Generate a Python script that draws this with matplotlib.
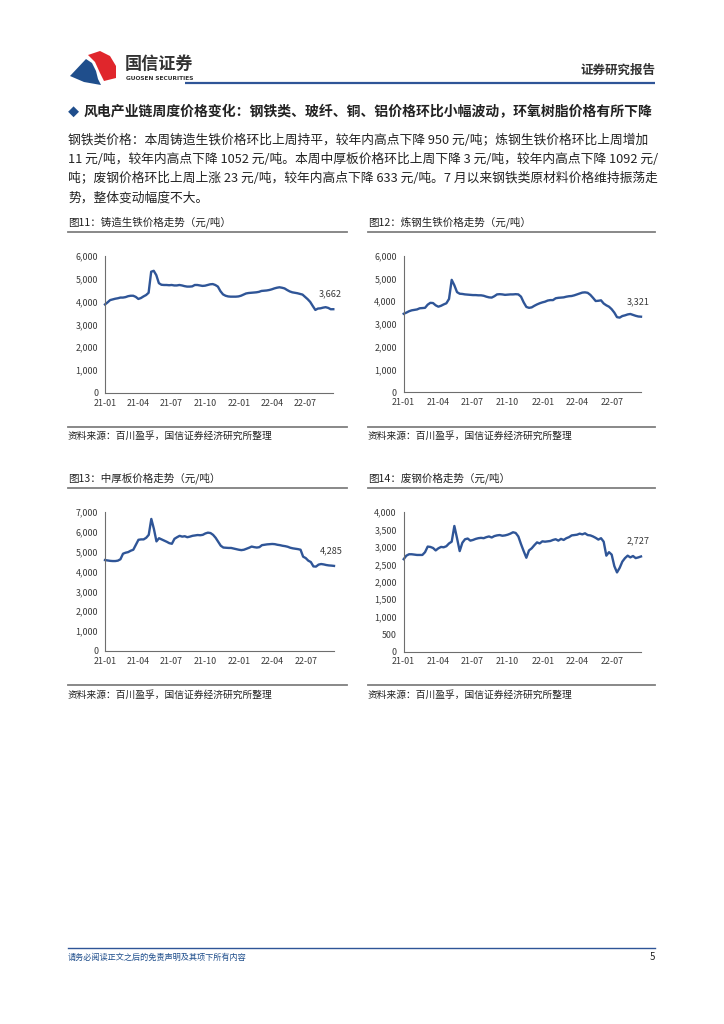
import matplotlib
matplotlib.use('Agg')
import matplotlib.pyplot as plt
from matplotlib.patches import Polygon
from matplotlib.ticker import FuncFormatter, MultipleLocator
import pandas as pd

plt.rcParams['font.family'] = ['Noto Sans CJK SC', 'DejaVu Sans']

# ---------------- data ----------------
dates = pd.date_range('2021-01-01', periods=90, freq='7D')
x_tick_dates = pd.to_datetime(['2021-01-01', '2021-04-01', '2021-07-01', '2021-10-01',
                               '2022-01-01', '2022-04-01', '2022-07-01'])
x_tick_labels = ['21-01', '21-04', '21-07', '21-10', '22-01', '22-04', '22-07']

cast_iron = [3870, 3960, 4060, 4090, 4120, 4140, 4170, 4170, 4190, 4230,
             4250, 4250, 4200, 4110, 4150, 4220, 4280, 4380, 5300, 5340,
             5150, 4800, 4730, 4720, 4720, 4710, 4720, 4700, 4700, 4720,
             4700, 4670, 4650, 4650, 4660, 4720, 4720, 4700, 4680, 4690,
             4720, 4750, 4760, 4720, 4650, 4450, 4310, 4250, 4220, 4210,
             4210, 4210, 4220, 4250, 4300, 4350, 4370, 4380, 4390, 4400,
             4420, 4460, 4470, 4480, 4500, 4530, 4570, 4600, 4620, 4600,
             4570, 4500, 4440, 4400, 4380, 4360, 4330, 4300, 4200, 4100,
             3980, 3800, 3630, 3690, 3700, 3730, 3750, 3720, 3660, 3662]

steel_iron = [3450, 3500, 3560, 3600, 3620, 3640, 3690, 3700, 3710, 3850,
              3930, 3920, 3820, 3760, 3800, 3860, 3910, 4100, 4940, 4700,
              4400, 4330, 4320, 4300, 4290, 4280, 4270, 4270, 4260, 4260,
              4240, 4200, 4170, 4160, 4220, 4300, 4310, 4300, 4280, 4290,
              4300, 4300, 4310, 4300, 4200, 3950, 3750, 3710, 3730, 3800,
              3860, 3910, 3950, 3980, 4030, 4050, 4050, 4130, 4150, 4160,
              4170, 4200, 4220, 4230, 4260, 4300, 4340, 4380, 4390, 4370,
              4280, 4150, 4010, 4020, 4040, 3900, 3820, 3760, 3650, 3500,
              3300, 3280, 3350, 3380, 3420, 3440, 3400, 3360, 3330, 3321]

plate = [4580, 4560, 4540, 4530, 4530, 4550, 4620, 4900, 4950, 4980,
         5050, 5100, 5350, 5600, 5620, 5620, 5700, 5850, 6650, 6150,
         5520, 5680, 5620, 5560, 5500, 5430, 5400, 5650, 5730, 5800,
         5760, 5780, 5730, 5760, 5800, 5820, 5840, 5830, 5850, 5920,
         5960, 5940, 5850, 5700, 5500, 5300, 5210, 5200, 5190, 5190,
         5160, 5130, 5100, 5080, 5100, 5150, 5200, 5260, 5230, 5210,
         5230, 5330, 5350, 5370, 5380, 5390, 5380, 5350, 5330, 5300,
         5280, 5250, 5200, 5170, 5150, 5130, 5100, 4750, 4680, 4550,
         4480, 4260, 4250, 4350, 4380, 4360, 4330, 4310, 4300, 4285]

scrap = [2650, 2750, 2790, 2790, 2780, 2770, 2770, 2770, 2850, 3010,
         3000, 2970, 2900, 2960, 3000, 2990, 3020, 3100, 3150, 3600,
         3250, 2880, 3120, 3220, 3240, 3180, 3200, 3230, 3250, 3260,
         3250, 3280, 3300, 3270, 3310, 3330, 3340, 3320, 3330, 3350,
         3380, 3420, 3400, 3300, 3080, 2880, 2690, 2900, 2960, 3050,
         3130, 3100, 3160, 3150, 3160, 3170, 3200, 3220, 3180, 3230,
         3200, 3250, 3280, 3330, 3340, 3350, 3380, 3360, 3390, 3340,
         3330, 3300, 3260, 3210, 3250, 3150, 2750, 2850, 2780, 2450,
         2270, 2400, 2580, 2680, 2750, 2700, 2740, 2680, 2700, 2727]

chart_titles = ['图11：铸造生铁价格走势（元/吨）', '图12：炼钢生铁价格走势（元/吨）',
                '图13：中厚板价格走势（元/吨）', '图14：废钢价格走势（元/吨）']
source_text = '资料来源：百川盈孚，国信证券经济研究所整理'

heading = '风电产业链周度价格变化：钢铁类、玻纤、铜、铝价格环比小幅波动，环氧树脂价格有所下降'
body_lines = [
    '钢铁类价格：本周铸造生铁价格环比上周持平，较年内高点下降 950 元/吨；炼钢生铁价格环比上周增加',
    '11 元/吨，较年内高点下降 1052 元/吨。本周中厚板价格环比上周下降 3 元/吨，较年内高点下降 1092 元/',
    '吨；废钢价格环比上周上涨 23 元/吨，较年内高点下降 633 元/吨。7 月以来钢铁类原材料价格维持振荡走',
    '势，整体变动幅度不大。',
]

# ---------------- figure ----------------
W, H = 724, 1024
fig = plt.figure(figsize=(7.24, 10.24), dpi=100)
fig.patch.set_facecolor('white')
bg = fig.add_axes([0, 0, 1, 1])
bg.set_xlim(0, W)
bg.set_ylim(H, 0)
bg.axis('off')
bg.patch.set_alpha(0)

BLUE = '#2F5597'
DARKBLUE = '#1F4E8C'

# header / logo
bg.add_patch(Polygon([(70, 76), (86, 59), (92, 63), (96, 71), (98, 79), (101, 85), (84, 82)],
                     closed=True, facecolor='#1F4E8C', edgecolor='none'))
bg.add_patch(Polygon([(88, 55), (100, 51), (110, 56), (116, 66), (116, 78), (104, 81), (100, 73), (95, 62)],
                     closed=True, facecolor='#E0262C', edgecolor='none'))
bg.text(125, 64, '国信证券', fontsize=12.3, fontweight='bold', color='#333333', va='center', ha='left')
bg.text(126, 78.5, 'GUOSEN SECURITIES', fontsize=4.2, fontweight='bold', color='#333333',
        va='center', ha='left', family=['DejaVu Sans'])
bg.text(655, 70, '证券研究报告', fontsize=9, fontweight='bold', color='#333333', va='center', ha='right')
bg.plot([185, 655], [83, 83], color=BLUE, lw=1.6, solid_capstyle='butt')

# heading and body
bg.text(68, 112, '◆', fontsize=8, color=DARKBLUE, va='center', ha='left')
bg.text(84, 112, heading, fontsize=10, fontweight='bold', color='#222222', va='center', ha='left')
for i, line in enumerate(body_lines):
    bg.text(68, 140 + i * 19.3, line, fontsize=9.2, color='#222222', va='center', ha='left')

# footer
bg.plot([68, 655], [948, 948], color=BLUE, lw=1.0)
bg.text(68, 957, '请务必阅读正文之后的免责声明及其项下所有内容', fontsize=5.9, color=DARKBLUE,
        va='center', ha='left', style='italic')
bg.text(655, 957, '5', fontsize=7, color='#222222', va='center', ha='right')

# charts
panels = [
    dict(series=cast_iron, title=chart_titles[0], box=(105, 255.7, 333.3, 393), ymax=6000, step=1000,
         frame=(68, 347), ty=222, tl=232, sl=427, st=436),
    dict(series=steel_iron, title=chart_titles[1], box=(403.7, 255.7, 641, 392.3), ymax=6000, step=1000,
         frame=(368, 655), ty=222, tl=232, sl=427, st=436),
    dict(series=plate, title=chart_titles[2], box=(105, 512, 334, 651), ymax=7000, step=1000,
         frame=(68, 347), ty=478, tl=488, sl=685, st=695),
    dict(series=scrap, title=chart_titles[3], box=(403.7, 512, 641, 651.7), ymax=4000, step=500,
         frame=(368, 655), ty=478, tl=488, sl=685, st=695),
]

fmt = FuncFormatter(lambda v, p: f'{v:,.0f}')
for pnl in panels:
    fl, fr = pnl['frame']
    bg.text(fl, pnl['ty'], pnl['title'], fontsize=7.6, color='#222222', va='center', ha='left')
    bg.plot([fl, fr], [pnl['tl'], pnl['tl']], color='#7F7F7F', lw=1.3)
    bg.plot([fl, fr], [pnl['sl'], pnl['sl']], color='#7F7F7F', lw=1.3)
    bg.text(fl, pnl['st'], source_text, fontsize=7, color='#222222', va='center', ha='left')

    l, t, r, b = pnl['box']
    ax = fig.add_axes([l / W, 1 - b / H, (r - l) / W, (b - t) / H])
    ax.patch.set_alpha(0)
    vals = pnl['series']
    ax.plot(dates, vals, color=BLUE, lw=1.7, clip_on=False, solid_joinstyle='round')
    ax.set_xlim(dates[0], dates[-1])
    ax.set_ylim(0, pnl['ymax'])
    ax.yaxis.set_major_locator(MultipleLocator(pnl['step']))
    ax.yaxis.set_major_formatter(fmt)
    ax.set_xticks(x_tick_dates)
    ax.set_xticklabels(x_tick_labels)
    ax.tick_params(axis='both', length=0, labelsize=6.4, colors='#3A3A3A')
    ax.tick_params(axis='y', pad=5)
    ax.tick_params(axis='x', pad=4)
    for s in ['top', 'right']:
        ax.spines[s].set_visible(False)
    for s in ['left', 'bottom']:
        ax.spines[s].set_color('#6E6E6E')
        ax.spines[s].set_linewidth(0.8)
    ax.annotate(f'{vals[-1]:,.0f}', xy=(dates[-1], vals[-1]), xytext=(-2, 11),
                textcoords='offset points', fontsize=6.6, color='#3A3A3A',
                ha='center', va='center', annotation_clip=False)

fig.savefig('out.png', dpi=100)
